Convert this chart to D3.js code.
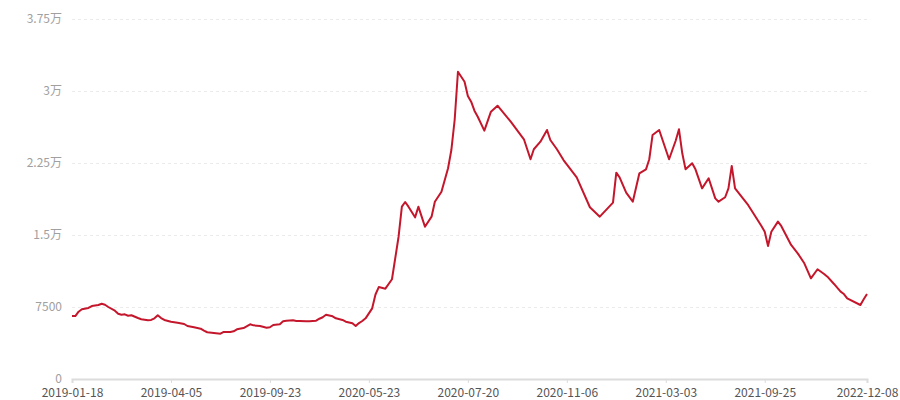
<!DOCTYPE html>
<meta charset="utf-8"/>
<style>
  body { margin: 0; background: #fff; }
  text { font-family: "Noto Sans CJK SC", "DejaVu Sans", sans-serif; font-size: 12px; }
</style>
<svg width="900" height="400"></svg>
<script src="https://d3js.org/d3.v7.min.js"></script>
<script>

// category count along the x axis (one point per date)
var nPoints = 242

// visible corners of the line: category index and value
var pointIdx = [0,1,2,3,5,6,8,9,10,11,13,14,15,16,17,18,20,21,23,24,25,26,27,28,30,32,34,35,37,39,40,41,43,45,46,48,49,50,52,54,55,57,59,60,61,63,64,65,67,68,69,71,72,74,75,76,77,79,80,82,83,85,86,87,88,89,91,92,93,95,97,99,100,101,102,104,105,106,107,109,110,112,114,115,116,117,119,120,121,122,123,125,127,129,133,137,139,140,142,144,145,147,149,153,157,160,164,165,166,168,170,172,174,175,176,178,181,183,184,185,186,188,189,191,193,195,196,198,199,200,201,205,209,210,211,212,214,215,218,220,222,224,226,228,229,231,233,234,235,239,240,241]
var pointVal = [6560,6560,7010,7260,7400,7600,7710,7840,7740,7500,7110,6800,6700,6740,6590,6640,6350,6220,6110,6150,6320,6640,6350,6150,5970,5860,5730,5520,5390,5240,5030,4870,4790,4720,4900,4900,4970,5180,5310,5700,5590,5520,5340,5390,5630,5700,6010,6070,6110,6040,6040,6010,6010,6070,6280,6430,6700,6530,6320,6150,5970,5800,5520,5830,6040,6320,7360,8800,9580,9410,10390,14820,17950,18440,17950,16840,17950,16910,15860,16910,18470,19510,21950,23850,26980,32010,30970,29480,28890,27950,27320,25870,27850,28470,26800,24970,22890,23930,24720,25940,24900,23930,22810,21010,17890,16910,18370,21490,21010,19410,18470,21430,21840,22890,25420,25940,22890,24820,26010,23510,21840,22470,21840,19860,20910,18820,18470,18930,19860,22190,19860,18100,15940,15340,13850,15340,16390,15940,13960,13090,12050,10490,11430,10940,10660,9900,9100,8850,8400,7710,8300,8850]

// x axis labels and where they sit
var tickIdx = [0,30,60,90,120,150,180,210,241]
var tickLabels = ['2019-01-18','2019-04-05','2019-09-23','2020-05-23','2020-07-20','2020-11-06','2021-03-03','2021-09-25','2022-12-08']

// y axis ticks
var yTicks = [0,7500,15000,22500,30000,37500]

var plotLeft = 72, plotRight = 867, plotTop = 19, plotBottom = 379

var svg = d3.select("svg")

var x = d3.scaleLinear().domain([0, nPoints-1]).range([plotLeft, plotRight])
var y = d3.scaleLinear().domain([0, 37500]).range([plotBottom, plotTop])

function fmt(v) {
    if (v >= 10000) return (v/10000) + '万'
    return '' + v
}

// grid
svg.append("g")
  .selectAll("line")
  .data(yTicks.filter(function(d) { return d > 0 }))
  .enter().append("line")
    .attr("x1", plotLeft).attr("x2", plotRight)
    .attr("y1", function(d) { return y(d) + 0.5 })
    .attr("y2", function(d) { return y(d) + 0.5 })
    .attr("stroke", "#ebebeb")
    .attr("stroke-width", 1)
    .attr("stroke-dasharray", "3,3")

// y labels
svg.append("g")
  .selectAll("text")
  .data(yTicks)
  .enter().append("text")
    .attr("x", 62)
    .attr("y", function(d) { return y(d) })
    .attr("dy", "0.35em")
    .attr("text-anchor", "end")
    .attr("fill", "#a0a0a0")
    .text(fmt)

// x axis
var xAxis = d3.axisBottom(x)
    .tickValues(tickIdx)
    .tickSize(4)
    .tickFormat(function(d, i) { return tickLabels[i] })

var gx = svg.append("g")
    .attr("transform", "translate(0," + plotBottom + ")")
    .call(xAxis)
gx.select(".domain").attr("stroke", "#dcdcdc").attr("stroke-width", 2)
gx.selectAll(".tick line").attr("stroke", "#dcdcdc")
gx.selectAll(".tick text")
    .attr("y", 9)
    .attr("fill", "#555")
    .style("font-size", "12px")
    .style("font-family", '"Noto Sans CJK SC", sans-serif')

// the line
var pts = pointIdx.map(function(d, i) { return [d, pointVal[i]] })
var line = d3.line()
    .x(function(d) { return x(d[0]) })
    .y(function(d) { return y(d[1]) })

svg.append("path")
    .datum(pts)
    .attr("d", line)
    .attr("fill", "none")
    .attr("stroke", "#c4172c")
    .attr("stroke-width", 2)
    .attr("stroke-linejoin", "round")

</script>
